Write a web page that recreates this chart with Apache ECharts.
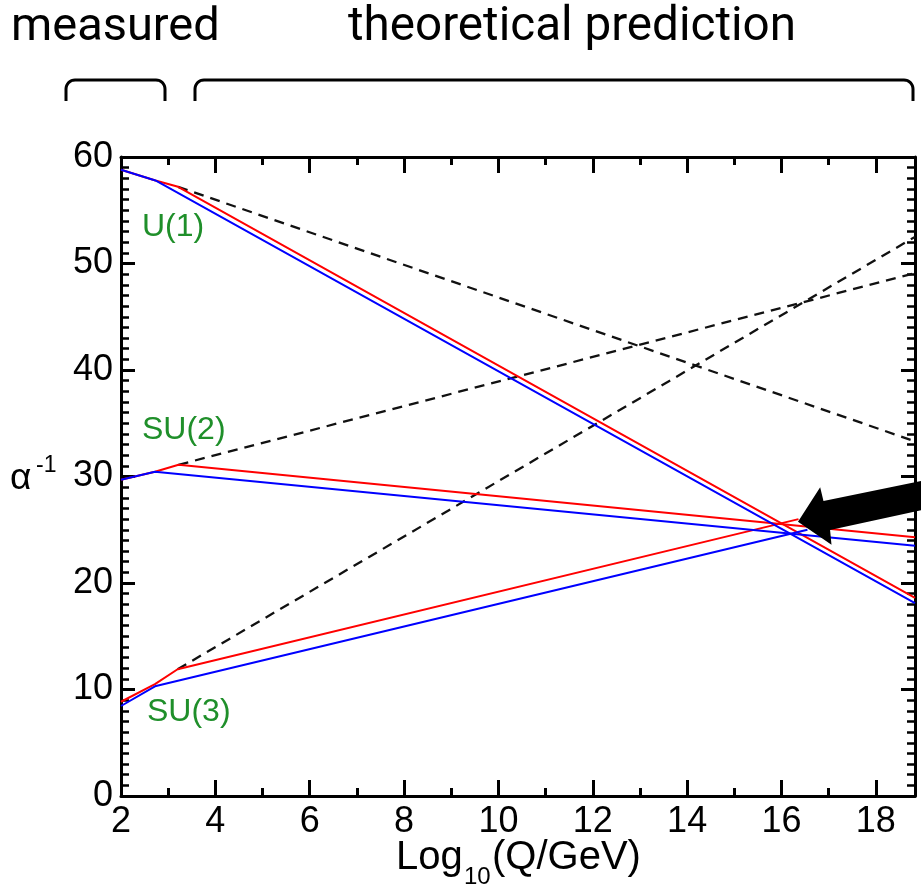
<!DOCTYPE html>
<html>
<head>
<meta charset="utf-8">
<script src="https://cdn.jsdelivr.net/npm/echarts@6/dist/echarts.min.js"></script>
<style>
  html, body { margin: 0; padding: 0; background: #fff; }
  #chart { width: 921px; height: 887px; }
</style>
</head>
<body>
<div id="chart"></div>
<script>
// x range: log10(Q/GeV), the right frame sits a bit before 19
const xMin = 2
const xMax = 18.83
const yMin = 0
const yMax = 60

// running couplings, [log10 Q, 1/alpha]
const u1Red = [[2, 58.8], [2.73, 57.8], [3.21, 57.2], [18.83, 18.6]]
const u1Blue = [[2, 58.8], [2.73, 57.8], [18.83, 18.1]]
const su2Red = [[2, 29.7], [2.72, 30.45], [3.22, 31.1], [18.83, 24.3]]
const su2Blue = [[2, 29.7], [2.72, 30.45], [18.83, 23.5]]
const su3Red = [[2, 8.85], [2.72, 10.5], [3.2, 11.9], [16.36, 26.0]]
const su3Blue = [[2, 8.45], [2.72, 10.3], [16.55, 25.0]]

// dashed extrapolations
const u1Dash = [[3.21, 57.2], [18.83, 33.3]]
const su2Dash = [[3.22, 31.1], [18.83, 49.1]]
const su3Dash = [[3.2, 11.9], [18.83, 52.5]]

// arrow pointing at the unification point (data coords)
const arrowShape = [[18.97, 29.6], [16.89, 27.7], [16.82, 29.0], [16.35, 25.75], [17.06, 23.6], [17.03, 24.98], [18.97, 26.85]]

const groupLabels = ['U(1)', 'SU(2)', 'SU(3)']

const chart = echarts.init(document.getElementById('chart'))

const tickFont = { fontFamily: 'Liberation Sans', fontSize: 36, color: '#000' }
const frameLine = { show: true, onZero: false, lineStyle: { color: '#000', width: 3 } }

function xAx(pos, step, len, labels) {
  return {
    type: 'value', position: pos, min: xMin, max: xMax, interval: step,
    axisLine: labels === null ? { show: false, onZero: false } : frameLine,
    axisTick: { show: true, inside: true, length: len, lineStyle: { color: '#000', width: 3 } },
    axisLabel: labels ? Object.assign({ margin: 8, formatter: v => (v % 2 === 0 ? String(v) : '') }, tickFont) : { show: false },
    splitLine: { show: false }
  }
}

function yAx(pos, labels) {
  return {
    type: 'value', position: pos, min: yMin, max: yMax, interval: 10,
    axisLine: frameLine,
    axisTick: { show: true, inside: true, length: 14, lineStyle: { color: '#000', width: 3 } },
    minorTick: { show: true, splitNumber: 10, length: 8, lineStyle: { color: '#000', width: 2.5 } },
    axisLabel: labels ? Object.assign({ margin: 8 }, tickFont) : { show: false },
    splitLine: { show: false }
  }
}

function line(data, color, dashed) {
  return {
    type: 'line', data: data, xAxisIndex: 0, yAxisIndex: 0,
    showSymbol: false, symbol: 'none', animation: false,
    lineStyle: { color: color, width: dashed ? 2.3 : 2, type: dashed ? [10, 7] : 'solid' }
  }
}

// bracket drawn as a polyline with rounded corners
function bracket(x0, x1) {
  const y0 = 80, y1 = 101, r = 9
  const pts = [[x0, y1]]
  for (let i = 0; i <= 8; i++) {
    const t = i / 8
    pts.push([x0 + r * (1 - Math.cos(t * Math.PI / 2)), y0 + r * (1 - Math.sin(t * Math.PI / 2))])
  }
  for (let i = 0; i <= 8; i++) {
    const t = i / 8
    pts.push([x1 - r + r * Math.sin(t * Math.PI / 2), y0 + r - r * Math.cos(t * Math.PI / 2)])
  }
  pts.push([x1, y1])
  return { type: 'polyline', shape: { points: pts }, style: { stroke: '#000', lineWidth: 3, fill: null } }
}

// text placed roughly by its baseline
function txt(s, x, base, size, fill, family) {
  return {
    type: 'text', x: x, y: base - 0.3 * size,
    style: { text: s, fontFamily: family || 'Liberation Sans', fontSize: size, fill: fill || '#000', verticalAlign: 'middle' }
  }
}

const green = '#1f8f2a'

chart.setOption({
  animation: false,
  grid: { left: 121, right: 6, top: 157, bottom: 91 },
  xAxis: [
    xAx('bottom', 2, 16, true),
    xAx('bottom', 1, 8, null),
    xAx('top', 2, 16, false),
    xAx('top', 1, 8, null)
  ],
  yAxis: [yAx('left', true), yAx('right', false)],
  series: [
    line(u1Dash, '#111', true),
    line(su2Dash, '#111', true),
    line(su3Dash, '#111', true),
    line(u1Red, '#ff0000'),
    line(su2Red, '#ff0000'),
    line(su3Red, '#ff0000'),
    line(u1Blue, '#0000ff'),
    line(su2Blue, '#0000ff'),
    line(su3Blue, '#0000ff'),
    {
      type: 'custom', xAxisIndex: 0, yAxisIndex: 0, clip: false, z: 10,
      data: [0],
      renderItem: (params, api) => ({
        type: 'polygon',
        shape: { points: arrowShape.map(p => api.coord(p)) },
        style: { fill: '#000' }
      })
    }
  ],
  graphic: [
    txt('measured', 11, 42, 47, '#000', 'Roboto'),
    txt('theoretical prediction', 348, 42, 47.6, '#000', 'Roboto'),
    bracket(66, 165),
    bracket(195, 913),
    txt(groupLabels[0], 142, 237, 32, green),
    txt(groupLabels[1], 142, 440, 32, green),
    txt(groupLabels[2], 147, 722, 32, green),
    txt('α', 10, 490, 37),
    txt('-1', 36, 473, 23),
    txt('Log', 396, 870, 40),
    txt('10', 464, 885, 24),
    txt('(Q/GeV)', 492, 870, 40)
  ]
})
</script>
</body>
</html>
